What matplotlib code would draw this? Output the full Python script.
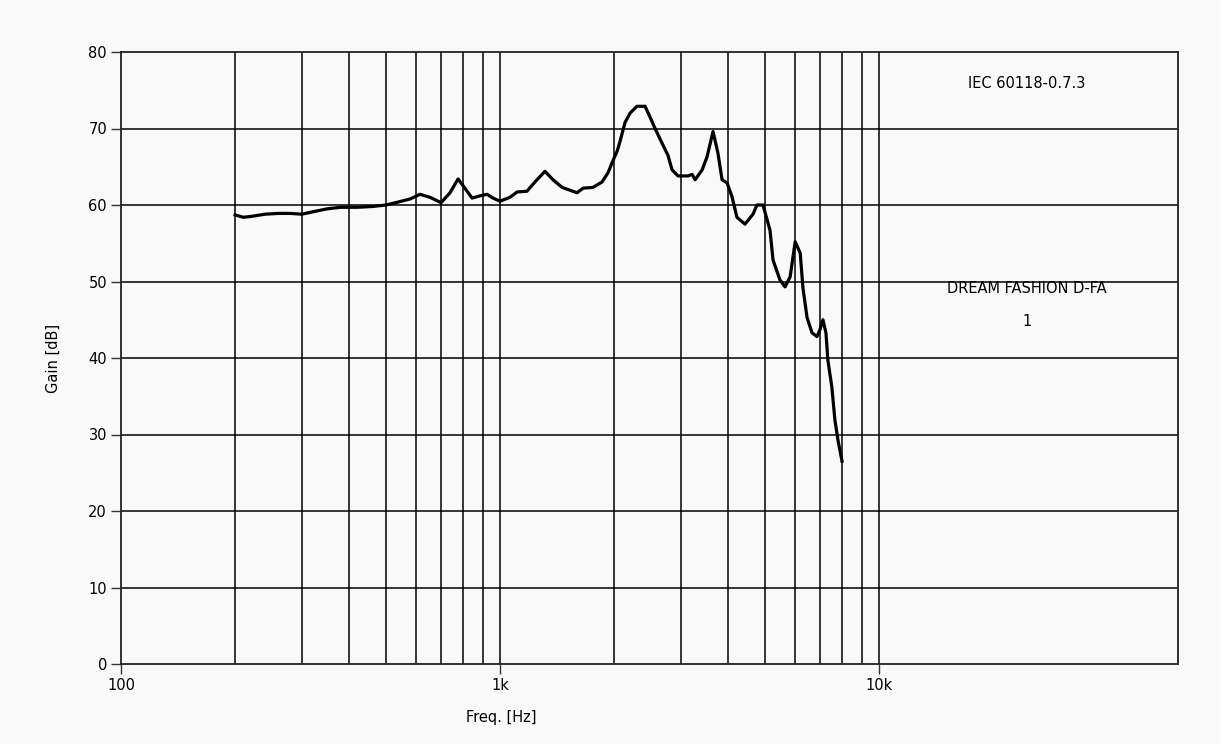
import matplotlib
matplotlib.use("Agg")
import matplotlib.pyplot as plt

# Frequency response data (Hz, dB)
freq_hz = [200, 210, 220, 240, 260, 280, 300, 320, 350, 380, 420, 460, 500, 540,
           580, 615, 654, 699, 738, 775, 808, 844, 886, 924, 959, 1000, 1062, 1109,
           1178, 1236, 1314, 1380, 1458, 1597, 1656, 1758, 1858, 1927, 1986, 2036,
           2073, 2138, 2203, 2297, 2414, 2488, 2565, 2675, 2774, 2844, 2949, 3135,
           3213, 3272, 3415, 3518, 3648, 3758, 3854, 3972, 4093, 4218, 4429, 4651,
           4764, 4942, 5157, 5253, 5479, 5651, 5827, 6009, 6196, 6298, 6458, 6656,
           6862, 6984, 7112, 7244, 7330, 7509, 7649, 7791, 7987]
gain_db = [58.7, 58.4, 58.5, 58.8, 58.9, 58.9, 58.8, 59.1, 59.5, 59.7, 59.7, 59.8, 60.0, 60.4,
           60.8, 61.4, 61.0, 60.3, 61.6, 63.4, 62.2, 60.9, 61.2, 61.4, 60.9, 60.5, 61.0, 61.7,
           61.8, 63.0, 64.4, 63.3, 62.3, 61.6, 62.2, 62.3, 63.0, 64.2, 65.8, 67.0,
           68.3, 70.8, 72.0, 72.9, 72.9, 71.5, 70.0, 68.1, 66.5, 64.6, 63.8, 63.8,
           64.0, 63.3, 64.6, 66.3, 69.6, 66.8, 63.3, 62.9, 61.1, 58.4, 57.5, 58.8,
           60.0, 60.0, 56.7, 52.8, 50.2, 49.3, 50.6, 55.2, 53.7, 49.2, 45.3, 43.3,
           42.8, 43.7, 45.0, 43.3, 39.7, 36.2, 31.9, 29.3, 26.5]

grid_freqs = [200, 300, 400, 500, 600, 700, 800, 900,
              1000, 2000, 3000, 4000, 5000, 6000, 7000, 8000, 9000, 10000]
grid_gains = [10, 20, 30, 40, 50, 60, 70]
x_ticks = [100, 1000, 10000]
x_tick_labels = ["100", "1k", "10k"]
y_ticks = [0, 10, 20, 30, 40, 50, 60, 70, 80]

bg = "#f9f9f9"
fig = plt.figure(figsize=(12.2, 7.44), dpi=100, facecolor=bg)
ax = fig.add_axes([121/1220, 80/744, 1057/1220, 612/744])
ax.set_facecolor(bg)

ax.set_xscale("log")
ax.set_xlim(100, 61500)
ax.set_ylim(0, 80)

for f in grid_freqs:
    ax.axvline(f, color="black", lw=1.1, zorder=1)
for g in grid_gains:
    ax.axhline(g, color="black", lw=1.1, zorder=1)

ax.plot(freq_hz, gain_db, color="black", lw=2.3, zorder=3, solid_joinstyle="round")

ax.set_xticks(x_ticks)
ax.set_xticklabels(x_tick_labels)
ax.xaxis.set_minor_locator(matplotlib.ticker.NullLocator())
ax.set_yticks(y_ticks)
ax.tick_params(axis="both", direction="out", length=7, width=1.0, labelsize=10.5,
               color="#333333", pad=3)

for s in ax.spines.values():
    s.set_linewidth(1.3)
    s.set_color("#222222")

ax.set_xlabel("Freq. [Hz]", fontsize=10.5)
ax.xaxis.set_label_coords(0.36, -0.075)
ax.set_ylabel("Gain [dB]", fontsize=10.5)
ax.yaxis.set_label_coords(-0.057, 0.5)

ax.text(0.857, 0.949, "IEC 60118-0.7.3", transform=ax.transAxes, ha="center",
        va="center", fontsize=10.5)
ax.text(0.857, 0.614, "DREAM FASHION D-FA", transform=ax.transAxes, ha="center",
        va="center", fontsize=10.5)
ax.text(0.857, 0.559, "1", transform=ax.transAxes, ha="center",
        va="center", fontsize=10.5)

fig.savefig("out.png", dpi=100, facecolor=bg)
